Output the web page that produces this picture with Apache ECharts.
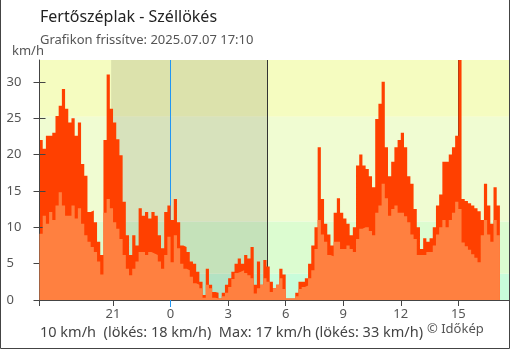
<!DOCTYPE html>
<html><head><meta charset="utf-8">
<script src="https://cdn.jsdelivr.net/npm/echarts@6/dist/echarts.min.js"></script>
<style>html,body{margin:0;padding:0;background:#fff}#c{width:510px;height:350px}</style>
</head><body><div id="c"></div>
<script>
// time of first sample: 17:10 previous day (hours relative to midnight), 10-minute samples
const startHour = -41/6;
const stepHour = 1/6;
const axisMaxHour = 17 + 40/60;

// gusts (km/h)
const gust = [
  22, 20.8, 22.6, 22.6, 23, 25.3, 26.7, 29, 26.3, 24.4,
  25, 22.6, 24.4, 18.7, 17.1, 12.1, 12.3, 10.7, 8, 6.2,
  22, 31, 26.3, 24.4, 22.1, 19.9, 13.5, 8.9, 6.2, 8.9,
  7.5, 12.6, 11.6, 12.1, 11.2, 12.1, 11.6, 8.9,
  7.1, 12.1, 13, 11, 13.9, 10.7, 7.5, 7.3, 6.6, 5.3,
  5, 3.9, 2.5, 0.7, 4.3, 2.1, 1.1, 1, 0.2, 1,
  2.1, 3, 3.9, 5, 5.7, 5, 6.2, 5.7, 7.3, 2.1,
  5.3, 2.1, 5.5, 4.6, 2.5, 1.6, 2.1, 4.3,
  3.5, 0.2, 0.2, 0.2, 1, 2.5, 2.5, 3, 5, 7.5,
  10, 21, 13.9, 10.5, 9, 7.5, 12, 14, 12, 11.2,
  10.5, 8.9, 10, 18.5, 20, 18.5, 18, 17, 15.5, 24.9,
  27, 30, 21, 17, 19, 21, 22,
  23, 21, 17, 16, 12.5, 10, 7, 8.5, 8, 8.5,
  10, 13, 14.5, 19, 19, 20, 21, 22.6, 33, 13.9,
  13.6, 13.3, 13, 12.6, 12.2, 11, 16, 13, 10.5, 15.5, 13
];
// average wind (km/h)
const wind = [
  9.1, 11.6, 10.5, 12.1, 11, 13, 14.8, 13, 11.6, 11.6,
  13, 11.2, 12.6, 10.5, 8.9, 8, 7.3, 6.6, 5.3, 3.5,
  12, 13.9, 12.6, 10.7, 9.8, 8.4, 6.2, 4.3, 3.4, 4.3,
  5.3, 6.6, 6.6, 6.2, 6.6, 6.4, 6.2, 5.3,
  4.3, 6.2, 8.7, 5.2, 8.9, 7.1, 5, 4.3, 4.1, 3.2,
  2.3, 2.1, 1.6, 0.3, 2.1, 1.6, 0.3, 0.2, 0.2, 0.5,
  1, 1.8, 2.9, 3.7, 3.9, 4.1, 3.7, 3.4, 3, 0.9,
  1.6, 2.1, 3, 2.5, 1.1, 1.6, 2.1, 3,
  1.5, 0.2, 0.2, 0.2, 0.5, 1.5, 1.8, 2, 3, 4.1,
  7, 11, 9, 8, 6.2, 6, 8, 8, 7, 7,
  7.5, 7, 6.6, 8.4, 9.8, 10, 10, 9.5, 8.9, 12,
  13, 16, 14, 11.6, 12.5, 13, 12,
  12, 11.5, 10.7, 9, 8.4, 6.2, 6.2, 6.2, 6.6, 6.6,
  7.5, 9, 10, 11, 10, 11, 12, 13.5, 12.5, 7.9,
  7.4, 6.9, 6.3, 5.8, 5.2, 8.9, 11, 9, 8, 11, 8.9
];

const xLabelHours = [-3, 0, 3, 6, 9, 12, 15];
const yMax = 33;
const yStep = 5;
const yTickValues = [0, 5, 10, 15, 20, 25, 30];
const bandEdges = [0, 3.6, 10.8, 25.2, 33];
const bandColors = ['#c8fcda', '#dcfcd0', '#f0fcd2', '#f5fcc0'];
const nightStart = -3.1;
const nightEnd = 5.05;
const markerHours = [0, 5.05, 15];
const markerColors = ['#2196f3', '#333333', '#333333'];

const titleText = 'Fertőszéplak - Széllökés';
const subText = 'Grafikon frissítve: 2025.07.07 17:10';
const unitText = 'km/h';
const footText = '10 km/h  (lökés: 18 km/h)  Max: 17 km/h (lökés: 33 km/h)';
const copyText = '© Időkép';

function toSteps(arr) {
  const pts = arr.map((v, i) => [startHour + i * stepHour, v]);
  pts.push([startHour + arr.length * stepHour, arr[arr.length - 1]]);
  return pts;
}

const FONT = 'Noto Sans';
const chart = echarts.init(document.getElementById('c'), null, {renderer: 'canvas'});

const bandAreas = bandColors.map((c, i) => [
  {xAxis: startHour, yAxis: bandEdges[i], itemStyle: {color: c}},
  {xAxis: axisMaxHour, yAxis: bandEdges[i + 1]}
]);

const option = {
  animation: false,
  textStyle: {fontFamily: FONT},
  graphic: [{
    type: 'rect', silent: true, z: 100,
    shape: {x: 0.5, y: -1, width: 509, height: 349.5},
    style: {fill: 'none', stroke: '#444', lineWidth: 1}
  }],
  title: [
    {text: titleText, left: 40, top: 9, padding: 0, textStyle: {fontSize: 16, fontWeight: 'normal', color: '#222', fontFamily: FONT}},
    {text: subText, left: 40, top: 34, padding: 0, textStyle: {fontSize: 13, fontWeight: 'normal', color: '#555', fontFamily: FONT}},
    {text: unitText, left: 12, top: 45, padding: 0, textStyle: {fontSize: 13, fontWeight: 'normal', color: '#555', fontFamily: FONT}},
    {text: footText, left: 40, top: 325, padding: 0, textStyle: {fontSize: 14.5, fontWeight: 'normal', color: '#444', fontFamily: FONT}},
    {text: copyText, left: 427, top: 323, padding: 0, textStyle: {fontSize: 13, fontWeight: 'normal', color: '#555', fontFamily: FONT}}
  ],
  grid: {left: 39.5, right: 0.5, top: 60, bottom: 50, containLabel: false},
  xAxis: [{
    type: 'value', min: startHour, max: axisMaxHour, position: 'bottom', z: 5,
    axisLine: {show: true, onZero: false, lineStyle: {color: '#444', width: 1}},
    axisTick: {show: true, length: 6, lineStyle: {color: '#444'}, customValues: [startHour].concat(xLabelHours)},
    axisLabel: {customValues: xLabelHours, color: '#555', fontSize: 13, margin: 8, fontFamily: FONT,
      formatter: v => String(((Math.round(v) % 24) + 24) % 24)},
    splitLine: {show: false}
  }, {
    type: 'value', min: startHour, max: axisMaxHour, position: 'bottom', z: 6, offset: 0,
    axisLine: {show: false, onZero: false},
    axisTick: {show: true, length: 7, lineStyle: {color: markerColors[0]}, customValues: [markerHours[0]]},
    axisLabel: {show: false},
    splitLine: {show: false}
  }],
  yAxis: [{
    type: 'value', min: 0, max: yMax, interval: yStep, position: 'left', z: 3,
    axisLine: {show: true, onZero: false, lineStyle: {color: '#444', width: 1}},
    axisTick: {show: true, length: 6, lineStyle: {color: '#444'}, customValues: yTickValues},
    axisLabel: {align: 'left', margin: 33, color: '#555', fontSize: 13, fontFamily: FONT, customValues: yTickValues},
    splitLine: {show: false}
  }, {
    type: 'value', min: 0, max: yMax, interval: yStep, position: 'left', z: 3,
    axisLine: {show: false, onZero: false},
    axisTick: {show: true, inside: true, length: 6, lineStyle: {color: '#444'}, customValues: yTickValues},
    axisLabel: {show: false},
    splitLine: {show: false}
  }],
  series: [
    {
      type: 'line', data: [], z: 1, silent: true,
      markArea: {silent: true, z: 1, data: bandAreas}
    },
    {
      type: 'line', data: [], z: 1, silent: true,
      markArea: {silent: true, z: 1.1, itemStyle: {color: 'rgba(0,0,0,0.1)'},
        data: [[{xAxis: nightStart, yAxis: 0}, {xAxis: nightEnd, yAxis: yMax}]]}
    },
    {
      type: 'line', data: [], z: 1, silent: true,
      markLine: {silent: true, z: 1.5, symbol: 'none', label: {show: false},
        data: markerHours.map((h, i) => ({xAxis: h, lineStyle: {color: markerColors[i], width: 1, type: 'solid'}}))}
    },
    {
      name: 'Széllökés', type: 'line', step: 'end', z: 2, symbol: 'none', silent: true,
      data: toSteps(gust),
      lineStyle: {width: 0, opacity: 0},
      areaStyle: {color: '#ff4000', opacity: 1}
    },
    {
      name: 'Szél', type: 'line', step: 'end', z: 4, symbol: 'none', silent: true,
      data: toSteps(wind),
      lineStyle: {width: 0, opacity: 0},
      areaStyle: {color: '#ff8040', opacity: 1}
    }
  ]
};
chart.setOption(option);
</script>
</body></html>
